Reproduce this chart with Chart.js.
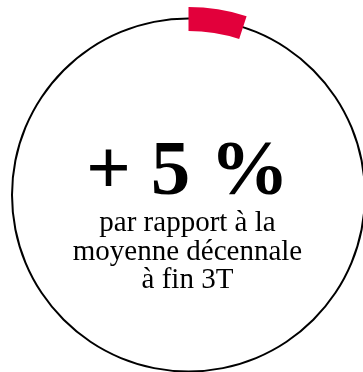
<!DOCTYPE html>
<html>
<head>
<meta charset="utf-8">
<script src="https://cdn.jsdelivr.net/npm/chart.js@4.4.1/dist/chart.umd.min.js"></script>
<style>
  html, body { margin: 0; padding: 0; width: 363px; height: 372px; overflow: hidden; background: #fff; }
  #wrap { position: absolute; left: 0; top: 0; width: 377px; height: 390px; }
  #wrap canvas { position: absolute; left: 0; top: 0; }
  .txt { position: absolute; left: -1px; width: 377px; text-align: center; color: #000;
         font-family: "Liberation Serif", "Times New Roman", serif; white-space: nowrap; }
  #headline { top: 128px; font-size: 79px; line-height: 79px; font-weight: bold; }
  #sub { top: 207px; font-size: 29px; line-height: 28.5px; }
</style>
</head>
<body>
<div id="wrap">
  <canvas id="ring" width="377" height="390"></canvas>
  <canvas id="arc" width="377" height="390"></canvas>
  <div id="headline" class="txt"></div>
  <div id="sub" class="txt"></div>
</div>
<script>
// ---- data ----
const categories = ['Écart vs moyenne décennale', 'Reste'];
const values = [5, 95];
const circleCategories = ['Cercle'];
const circleValues = [100];
const headlineText = '+ 5 %';
const subLines = ['par rapport à la', 'moyenne décennale', 'à fin 3T'];

document.getElementById('headline').textContent = headlineText;
const sub = document.getElementById('sub');
subLines.forEach((l, i) => {
  if (i) sub.appendChild(document.createElement('br'));
  sub.appendChild(document.createTextNode(l));
});

const common = {
  responsive: false,
  animation: false,
  layout: { padding: 0 },
  plugins: { legend: { display: false }, tooltip: { enabled: false } },
  events: []
};

new Chart(document.getElementById('ring'), {
  type: 'doughnut',
  data: {
    labels: circleCategories,
    datasets: [{ data: circleValues, backgroundColor: ['#000000'], borderWidth: 0 }]
  },
  options: Object.assign({}, common, { radius: 177.5, cutout: (175.5 / 177.5 * 100) + '%' })
});

new Chart(document.getElementById('arc'), {
  type: 'doughnut',
  data: {
    labels: categories,
    datasets: [{ data: values, backgroundColor: ['#e2003b', 'rgba(0,0,0,0)'], borderWidth: 0 }]
  },
  options: Object.assign({}, common, { radius: 188, cutout: (164 / 188 * 100) + '%' })
});
</script>
</body>
</html>
